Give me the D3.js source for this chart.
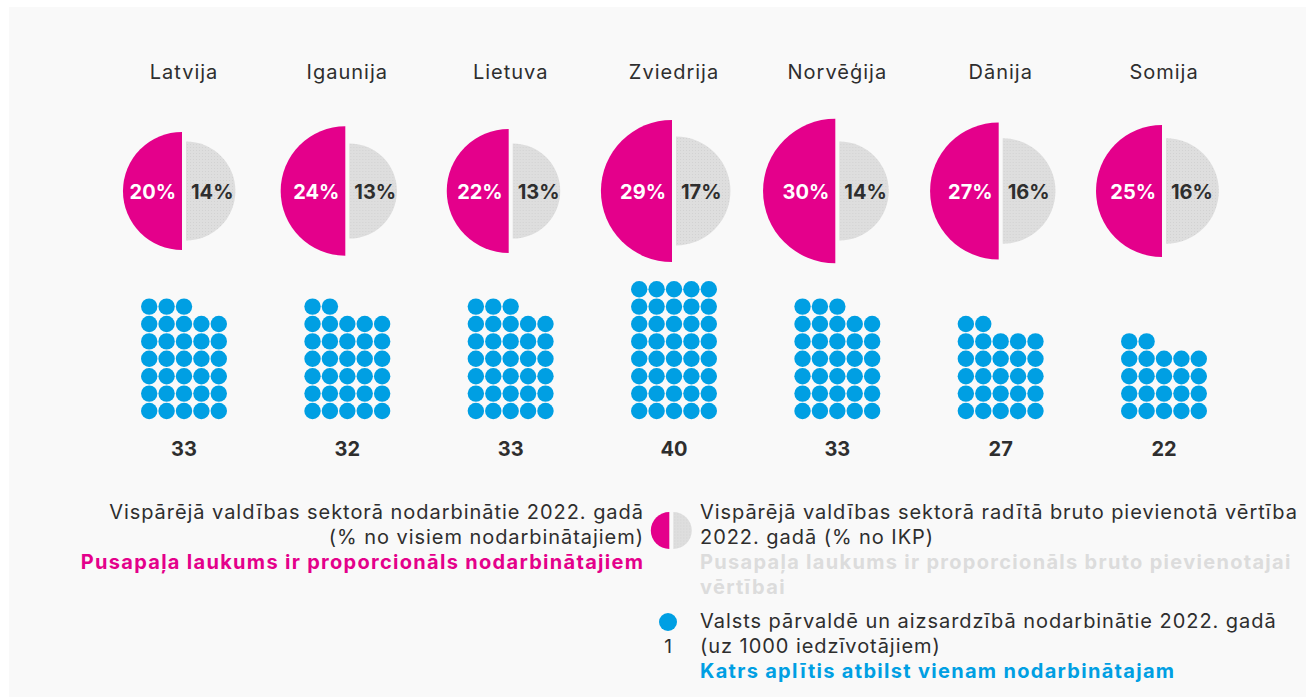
<!DOCTYPE html>
<html>
<head>
<meta charset="utf-8">
<script src="https://cdn.jsdelivr.net/npm/d3@7"></script>
<style>
  html, body { margin: 0; padding: 0; background: #ffffff; }
  svg { display: block; }
  text { font-family: Inter, "Open Sans", sans-serif; }
</style>
</head>
<body>
<svg id="chart" width="1306" height="697"></svg>
<script>
// ---- data ----
const countries = ["Latvija", "Igaunija", "Lietuva", "Zviedrija", "Norvēģija", "Dānija", "Somija"];
const employmentShare = [20, 24, 22, 29, 30, 27, 25];   // % no visiem nodarbinātajiem
const gvaShare = [14, 13, 13, 17, 14, 16, 16];          // % no IKP
const adminPer1000 = [33, 32, 33, 40, 33, 27, 22];      // uz 1000 iedzīvotājiem

const legendLeft = [
  "Vispārējā valdības sektorā nodarbinātie 2022. gadā",
  "(% no visiem nodarbinātajiem)",
  "Pusapaļa laukums ir proporcionāls nodarbinātajiem"
];
const legendRight = [
  "Vispārējā valdības sektorā radītā bruto pievienotā vērtība",
  "2022. gadā (% no IKP)",
  "Pusapaļa laukums ir proporcionāls bruto pievienotajai",
  "vērtībai"
];
const legendDots = [
  "Valsts pārvaldē un aizsardzībā nodarbinātie 2022. gadā",
  "(uz 1000 iedzīvotājiem)",
  "Katrs aplītis atbilst vienam nodarbinātajam"
];

// ---- styling ----
const PINK = "#e4008b", BLUE = "#009fe3", TEXT = "#2e2e2e";
const LS_REG = 0.95, LS_BOLD = 1.3;

const svg = d3.select("#chart");
svg.append("rect").attr("x", 9).attr("y", 7).attr("width", 1297).attr("height", 690).attr("fill", "#f9f9f9");

const defs = svg.append("defs");
const pat = defs.append("pattern").attr("id", "greyTex").attr("patternUnits", "userSpaceOnUse")
  .attr("width", 3).attr("height", 3);
pat.append("rect").attr("width", 3).attr("height", 3).attr("fill", "#dedede");
pat.append("rect").attr("x", 1).attr("y", 1).attr("width", 1).attr("height", 1).attr("fill", "#d2d2d2");

const x = d3.scalePoint().domain(countries).range([184, 1164]);
const r = d3.scaleSqrt().domain([0, 30]).range([0, 72.3]);
const cy = 191;
const gap = 2;

const leftArc = v => d3.arc()({ innerRadius: 0, outerRadius: r(v), startAngle: Math.PI, endAngle: 2 * Math.PI });
const rightArc = v => d3.arc()({ innerRadius: 0, outerRadius: r(v), startAngle: 0, endAngle: Math.PI });

const data = countries.map((c, i) => ({ c, emp: employmentShare[i], gva: gvaShare[i], adm: adminPer1000[i] }));

const g = svg.selectAll("g.country").data(data).join("g").attr("class", "country")
  .attr("transform", d => `translate(${x(d.c)},0)`);

g.append("text").attr("x", 0).attr("y", 79).attr("text-anchor", "middle")
  .attr("font-size", 20).attr("letter-spacing", 1).attr("fill", TEXT).text(d => d.c);

g.append("path").attr("transform", `translate(${-gap},${cy})`).attr("d", d => leftArc(d.emp)).attr("fill", PINK);
g.append("path").attr("transform", `translate(${gap},${cy})`).attr("d", d => rightArc(d.gva)).attr("fill", "url(#greyTex)");

g.append("text").attr("x", -8).attr("y", cy + 7.5).attr("text-anchor", "end")
  .attr("font-size", 20).attr("font-weight", 700).attr("fill", "#ffffff").text(d => d.emp + "%");
g.append("text").attr("x", 7).attr("y", cy + 7.5).attr("text-anchor", "start")
  .attr("font-size", 20).attr("font-weight", 700).attr("fill", TEXT).text(d => d.gva + "%");

// dots
const cols = 5, step = 17.4, dotR = 8.2, baseY = 411;
g.each(function (d) {
  const dots = d3.range(d.adm).map(i => ({ col: i % cols, row: Math.floor(i / cols) }));
  d3.select(this).selectAll("circle.dot").data(dots).join("circle").attr("class", "dot")
    .attr("cx", p => (p.col - 2) * step)
    .attr("cy", p => baseY - p.row * step)
    .attr("r", dotR).attr("fill", BLUE);
});

g.append("text").attr("x", 0).attr("y", 456).attr("text-anchor", "middle")
  .attr("font-size", 20).attr("font-weight", 700).attr("fill", TEXT).text(d => d.adm);

// ---- legend ----
const lh = 25;
const L = svg.append("g");
legendLeft.forEach((t, i) => {
  const bold = i === 2;
  L.append("text").attr("x", bold ? 643 + LS_BOLD : 643 + LS_REG).attr("y", 519 + i * lh).attr("text-anchor", "end")
    .attr("font-size", 20).attr("font-weight", bold ? 650 : 400)
    .attr("letter-spacing", bold ? LS_BOLD : LS_REG)
    .attr("fill", bold ? PINK : TEXT).text(t);
});
legendRight.forEach((t, i) => {
  const bold = i >= 2;
  L.append("text").attr("x", 700).attr("y", 519 + i * lh).attr("text-anchor", "start")
    .attr("font-size", 20).attr("font-weight", bold ? 650 : 400)
    .attr("letter-spacing", bold ? LS_BOLD : LS_REG)
    .attr("fill", bold ? "#dcdcdc" : TEXT).text(t);
});
legendDots.forEach((t, i) => {
  const bold = i === 2;
  L.append("text").attr("x", 700).attr("y", 628 + i * lh).attr("text-anchor", "start")
    .attr("font-size", 20).attr("font-weight", bold ? 650 : 400)
    .attr("letter-spacing", bold ? LS_BOLD : LS_REG)
    .attr("fill", bold ? BLUE : TEXT).text(t);
});
// legend icons
const iconR = 18.5, icx = 671.3, icy = 530.5;
L.append("path").attr("transform", `translate(${icx - gap},${icy})`)
  .attr("d", d3.arc()({ innerRadius: 0, outerRadius: iconR, startAngle: Math.PI, endAngle: 2 * Math.PI }))
  .attr("fill", PINK);
L.append("path").attr("transform", `translate(${icx + gap},${icy})`)
  .attr("d", d3.arc()({ innerRadius: 0, outerRadius: iconR, startAngle: 0, endAngle: Math.PI }))
  .attr("fill", "url(#greyTex)");
L.append("circle").attr("cx", 668).attr("cy", 622).attr("r", 9).attr("fill", BLUE);
L.append("text").attr("x", 668).attr("y", 653).attr("text-anchor", "middle")
  .attr("font-size", 19).attr("fill", TEXT).text("1");
</script>
</body>
</html>
